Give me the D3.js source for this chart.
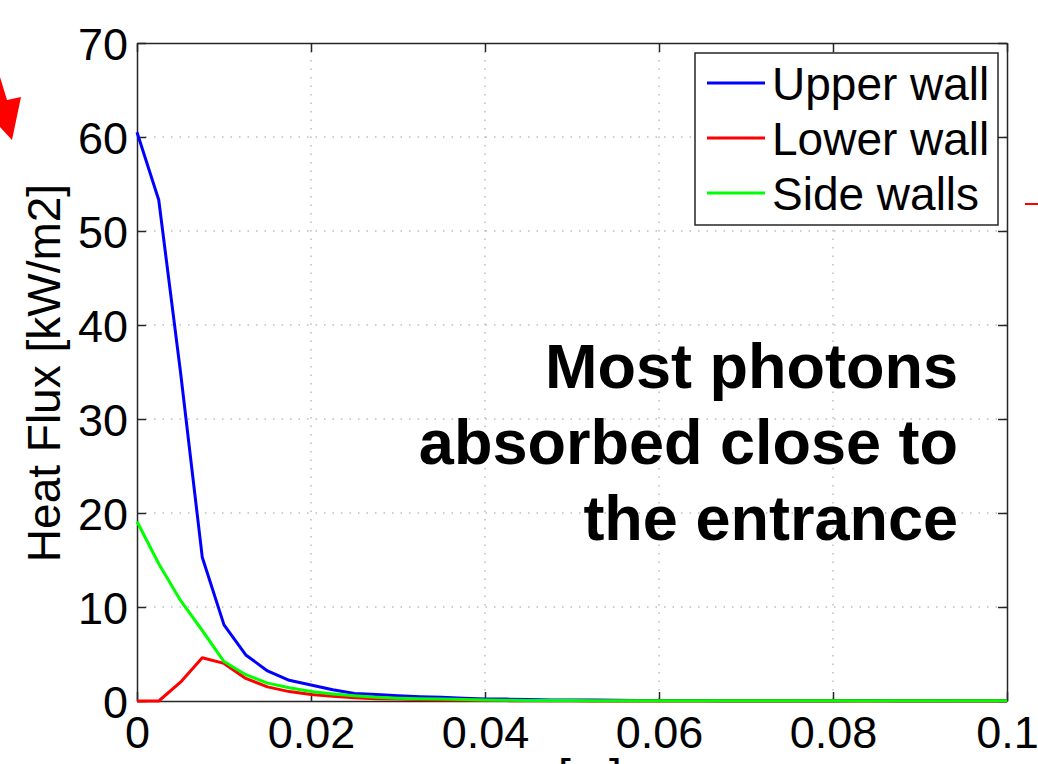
<!DOCTYPE html>
<html>
<head>
<meta charset="utf-8">
<script src="https://cdn.jsdelivr.net/npm/d3@7"></script>
<style>
	body { margin: 0; background: #fff; }
	svg { display: block; font-family: "Liberation Sans", Arial, sans-serif; }
	.grid line { stroke: #9a9a9a; stroke-width: 1; stroke-dasharray: 1.5, 7; }
	.axis text { font-size: 45px; fill: #000; }
	.axis path, .axis line { stroke: #262626; stroke-width: 1.5; }
</style>
</head>
<body>
<div id="chart"></div>
<script>
/* DATA */

var xPos = [0, 0.0025, 0.005, 0.0075, 0.01, 0.0125, 0.015, 0.0175, 0.02, 0.0225,
	0.025, 0.0275, 0.03, 0.0325, 0.035, 0.0375, 0.04, 0.0425, 0.045, 0.0475,
	0.05, 0.0525, 0.055, 0.0575, 0.06, 0.0625, 0.065, 0.0675, 0.07, 0.0725,
	0.075, 0.0775, 0.08, 0.0825, 0.085, 0.0875, 0.09, 0.0925, 0.095, 0.0975, 0.1];

var upperWall = [60.5, 53.3, 35.0, 15.3, 8.1, 4.9, 3.2, 2.2, 1.7, 1.2,
	0.8, 0.7, 0.55, 0.45, 0.4, 0.3, 0.2, 0.2, 0.15, 0.1,
	0.1, 0.1, 0.08, 0.06, 0.05, 0.05, 0.04, 0.03, 0.03, 0.03,
	0.03, 0.03, 0.03, 0.04, 0.05, 0.03, 0.03, 0.06, 0.03, 0.02, 0.02];

var lowerWall = [0, 0, 2.0, 4.6, 4.0, 2.4, 1.5, 1.0, 0.7, 0.5,
	0.35, 0.25, 0.2, 0.15, 0.1, 0.08, 0.05, 0.04, 0.03, 0.02,
	0.02, 0.01, 0.01, 0.01, 0.01, 0.01, 0.01, 0.01, 0.01, 0.01,
	0.01, 0.01, 0.01, 0.01, 0.01, 0.01, 0.01, 0.01, 0.01, 0.01, 0.01];

var sideWalls = [19.1, 14.6, 10.7, 7.5, 4.2, 2.8, 1.9, 1.4, 1.0, 0.75,
	0.55, 0.4, 0.3, 0.25, 0.2, 0.15, 0.1, 0.08, 0.06, 0.05,
	0.04, 0.03, 0.03, 0.02, 0.02, 0.02, 0.02, 0.02, 0.02, 0.02,
	0.02, 0.02, 0.02, 0.02, 0.02, 0.02, 0.02, 0.02, 0.02, 0.02, 0.02];

var seriesNames = ["Upper wall", "Lower wall", "Side walls"];
var seriesColors = ["#0000ff", "#ff0000", "#00ff00"];

var xTicks = [0, 0.02, 0.04, 0.06, 0.08, 0.1];
var yTicks = [0, 10, 20, 30, 40, 50, 60, 70];

var note = ["Most photons", "absorbed close to", "the entrance"];

/* LAYOUT */

var W = 1038, H = 764,
	margin = {top: 43, right: 31, bottom: 63, left: 137},
	width = W - margin.left - margin.right,
	height = H - margin.top - margin.bottom;

var svg = d3.select("#chart").append("svg")
	.attr("width", W)
	.attr("height", H);

// bits of the slide around the figure
svg.append("path")
	.attr("d", "M0,77 L7,100 L21,97 L12,140 L0,127 Z")
	.attr("fill", "#ff0000");
svg.append("line")
	.attr("x1", 1025).attr("x2", 1038).attr("y1", 204).attr("y2", 204)
	.attr("stroke", "#ff0000").attr("stroke-width", 2);

var g = svg.append("g")
	.attr("transform", "translate(" + margin.left + "," + margin.top + ")");

var x = d3.scaleLinear().domain([0, 0.1]).range([0, width]);
var y = d3.scaleLinear().domain([0, 70]).range([height, 0]);

/* Grid */

g.append("g").attr("class", "grid")
	.selectAll("line").data(xTicks.slice(1, -1))
	.enter().append("line")
	.attr("x1", function(d) { return x(d); })
	.attr("x2", function(d) { return x(d); })
	.attr("y1", 0).attr("y2", height);

g.append("g").attr("class", "grid")
	.selectAll("line").data(yTicks.slice(1, -1))
	.enter().append("line")
	.attr("x1", 0).attr("x2", width)
	.attr("y1", function(d) { return y(d); })
	.attr("y2", function(d) { return y(d); });

/* Axes (ticks inside, on all four sides) */

var fmtX = function(d) { return d === 0 ? "0" : d3.format(".2~f")(d); };

g.append("g")
	.attr("class", "axis axis--x")
	.attr("transform", "translate(0," + height + ")")
	.call(d3.axisBottom(x).tickValues(xTicks).tickFormat(fmtX).tickSizeInner(-9).tickSizeOuter(0).tickPadding(15));

g.append("g")
	.attr("class", "axis axis--top")
	.call(d3.axisTop(x).tickValues(xTicks).tickFormat("").tickSizeInner(-9).tickSizeOuter(0));

g.append("g")
	.attr("class", "axis axis--y")
	.call(d3.axisLeft(y).tickValues(yTicks).tickSizeInner(-9).tickSizeOuter(0).tickPadding(9));

g.append("g")
	.attr("class", "axis axis--right")
	.attr("transform", "translate(" + width + ",0)")
	.call(d3.axisRight(y).tickValues(yTicks).tickFormat("").tickSizeInner(-9).tickSizeOuter(0));

g.selectAll(".axis--y text").attr("dy", "0.36em");

/* Axis titles */

svg.append("text")
	.attr("transform", "translate(60," + 373 + ") rotate(-90)")
	.attr("text-anchor", "middle")
	.style("font-size", "46px")
	.text("Heat Flux [kW/m2]");

// x title sits mostly below the visible area, as in the source image
svg.append("text")
	.attr("x", margin.left + width / 2)
	.attr("y", 792)
	.attr("text-anchor", "middle")
	.style("font-size", "46px")
	.text("x [m]");

/* Lines */

var allSeries = [upperWall, lowerWall, sideWalls];

var line = d3.line()
	.x(function(d, i) { return x(xPos[i]); })
	.y(function(d) { return y(d); });

g.selectAll(".series")
	.data(allSeries)
	.enter().append("path")
	.attr("class", "series")
	.attr("fill", "none")
	.attr("stroke", function(d, i) { return seriesColors[i]; })
	.attr("stroke-width", 3)
	.attr("stroke-linejoin", "round")
	.attr("d", line);

/* Legend */

var legend = svg.append("g").attr("transform", "translate(695,53)");

legend.append("rect")
	.attr("width", 303).attr("height", 172)
	.attr("fill", "#fff")
	.attr("stroke", "#262626").attr("stroke-width", 1.5);

var item = legend.selectAll(".item")
	.data(seriesNames)
	.enter().append("g")
	.attr("transform", function(d, i) { return "translate(0," + (30 + i * 55) + ")"; });

item.append("line")
	.attr("x1", 12).attr("x2", 70)
	.attr("stroke", function(d, i) { return seriesColors[i]; })
	.attr("stroke-width", 3);

item.append("text")
	.attr("x", 77).attr("dy", "0.36em")
	.style("font-size", "46px")
	.text(function(d) { return d; });

/* Annotation */

svg.append("g").selectAll("text")
	.data(note)
	.enter().append("text")
	.attr("x", 958)
	.attr("y", function(d, i) { return 388 + i * 76; })
	.attr("text-anchor", "end")
	.style("font-size", "63px")
	.style("font-weight", "bold")
	.text(function(d) { return d; });
</script>
</body>
</html>
